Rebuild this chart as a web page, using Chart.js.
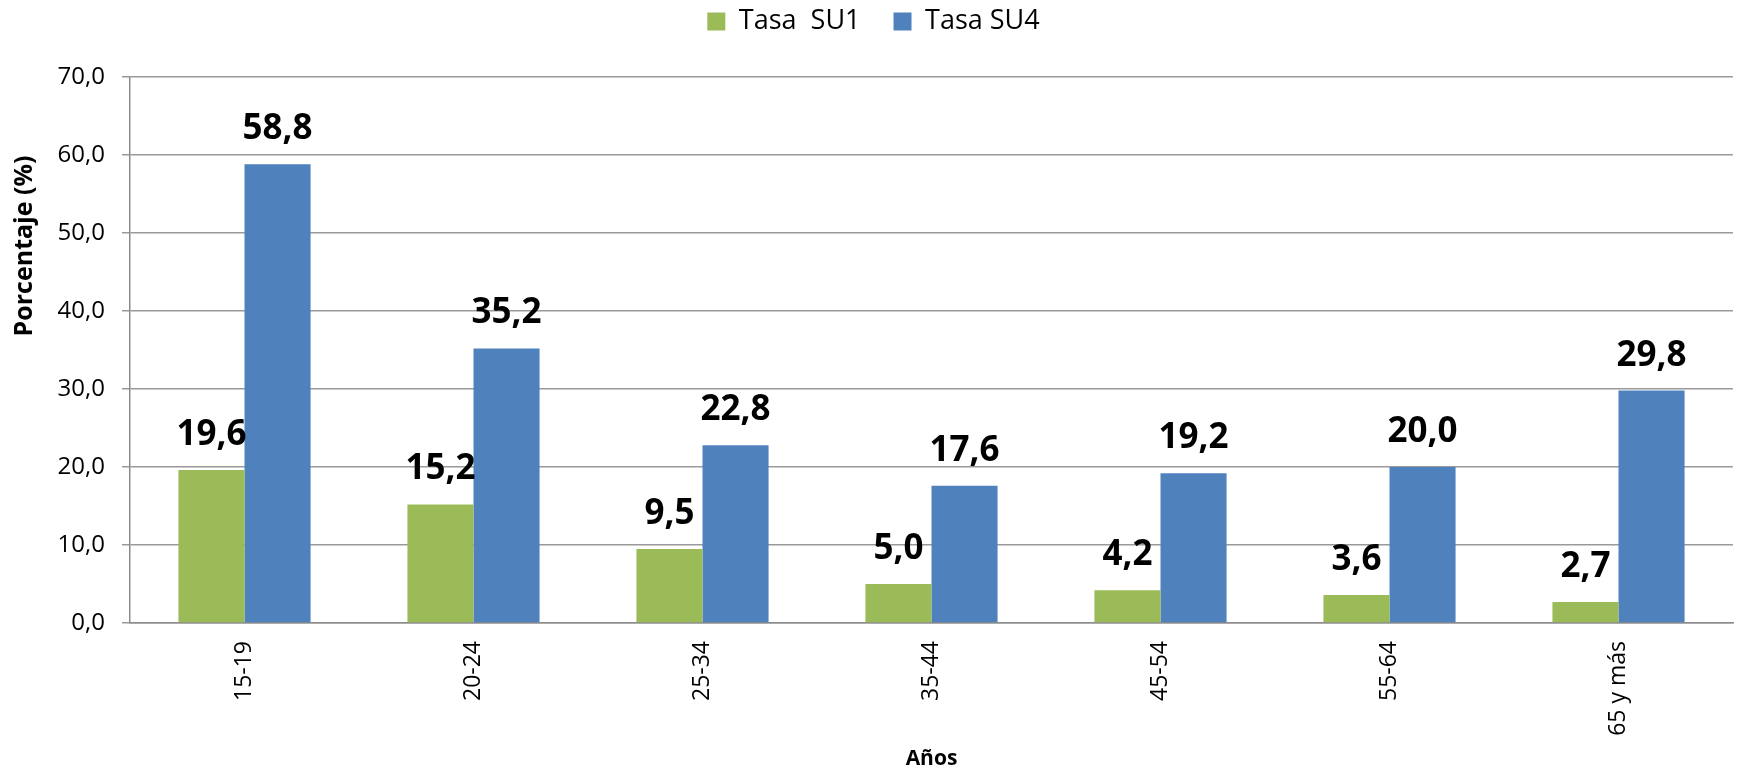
<!DOCTYPE html>
<html>
<head>
<meta charset="utf-8">
<script src="https://cdn.jsdelivr.net/npm/chart.js@4"></script>
<style>
  body { margin: 0; background: #fff; }
</style>
</head>
<body>
<canvas id="tasasChart" width="1738" height="772"></canvas>
<script>
var categories = ["15-19", "20-24", "25-34", "35-44", "45-54", "55-64", "65 y más"];
var tasaSU1 = [19.6, 15.2, 9.5, 5.0, 4.2, 3.6, 2.7];
var tasaSU4 = [58.8, 35.2, 22.8, 17.6, 19.2, 20.0, 29.8];
var yTicks = [0, 10, 20, 30, 40, 50, 60, 70];

function coma(v) {
    return v.toFixed(1).replace('.', ',');
}

Chart.defaults.font.family = "'Open Sans', sans-serif";
Chart.defaults.color = '#000';

// pushes the plot area down under the legend
var legendSpace = {
    id: 'legendSpace',
    beforeInit: function (chart) {
        var fit = chart.legend.fit;
        chart.legend.fit = function () {
            fit.bind(chart.legend)();
            this.height = 102;
        };
    }
};

// values above each bar
var barValues = {
    id: 'barValues',
    afterDatasetsDraw: function (chart) {
        var ctx = chart.ctx;
        ctx.save();
        ctx.font = "bold 35px 'Open Sans'";
        ctx.fillStyle = '#000';
        ctx.textAlign = 'center';
        ctx.textBaseline = 'alphabetic';
        chart.data.datasets.forEach(function (ds, i) {
            chart.getDatasetMeta(i).data.forEach(function (bar, j) {
                ctx.fillText(coma(ds.data[j]), bar.x, bar.y - 25);
            });
        });
        ctx.restore();
    }
};

// y axis title, placed like the original (not centred on the axis)
var yTitle = {
    id: 'yTitle',
    afterDraw: function (chart) {
        var ctx = chart.ctx;
        ctx.save();
        ctx.translate(25, 246);
        ctx.rotate(-Math.PI / 2);
        ctx.font = "bold 25px 'Open Sans'";
        ctx.fillStyle = '#000';
        ctx.textAlign = 'center';
        ctx.textBaseline = 'middle';
        ctx.fillText('Porcentaje (%)', 0, 0);
        ctx.restore();
    }
};

var chart = new Chart(document.getElementById('tasasChart'), {
    type: 'bar',
    data: {
        labels: categories,
        datasets: [{
            label: 'Tasa  SU1',
            data: tasaSU1,
            backgroundColor: '#9BBB59',
            categoryPercentage: 0.577,
            barPercentage: 1
        }, {
            label: 'Tasa SU4',
            data: tasaSU4,
            backgroundColor: '#4F81BD',
            categoryPercentage: 0.577,
            barPercentage: 1
        }]
    },
    options: {
        responsive: false,
        animation: false,
        layout: { padding: { top: -25, left: 14, right: 5, bottom: 0 } },
        plugins: {
            legend: {
                position: 'top',
                labels: {
                    boxWidth: 18,
                    boxHeight: 18,
                    padding: 33,
                    color: '#000',
                    font: { size: 27 }
                }
            },
            tooltip: { enabled: false }
        },
        scales: {
            x: {
                grid: { display: false, drawTicks: false },
                border: { color: '#8c8c8c', width: 1.5 },
                ticks: {
                    minRotation: 90,
                    maxRotation: 90,
                    padding: 18,
                    font: { size: 23 }
                },
                title: {
                    display: true,
                    text: 'Años',
                    padding: 0,
                    font: { size: 21, weight: 'bold' }
                },
                afterFit: function (scale) { scale.height = 149; }
            },
            y: {
                min: 0,
                max: 70,
                afterBuildTicks: function (scale) {
                    scale.ticks = yTicks.map(function (v) { return { value: v }; });
                },
                grid: { color: '#9a9a9a', lineWidth: 1.5, tickLength: 8 },
                border: { color: '#8c8c8c', width: 1.5 },
                ticks: {
                    padding: 17,
                    font: { size: 24 },
                    callback: function (v) { return coma(v); }
                },
                afterFit: function (scale) { scale.width = 116; }
            }
        }
    },
    plugins: [legendSpace, barValues, yTitle]
});
</script>
</body>
</html>
